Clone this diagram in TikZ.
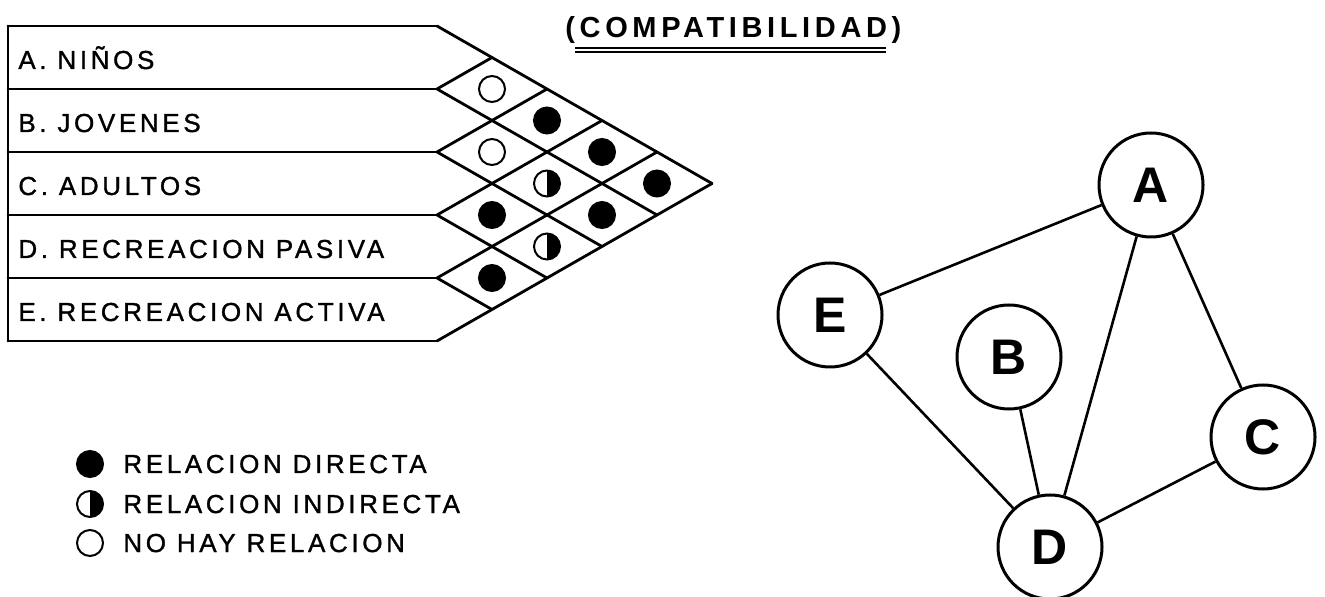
\documentclass[tikz,border=0pt]{standalone}
\usepackage{fontspec}
\setmainfont{Liberation Sans}
\newfontfamily\rotulo[LetterSpace=14, FakeBold=1.2]{Liberation Sans}
\newfontfamily\rotulotit[LetterSpace=16]{Liberation Sans}
\usetikzlibrary{calc}

\begin{document}
\begin{tikzpicture}[x=0.5pt, y=-0.5pt,
    linea/.style={line width=1.4pt, line cap=round},
    fila/.style={anchor=base west, inner sep=0pt, font=\fontsize{13}{15}\rotulo},
    marca/.style={circle, draw, line width=1pt, minimum size=13pt, inner sep=0pt},
    directa/.style={marca, fill=black},
    nula/.style={marca, fill=white},
    indirecta/.style={marca, path picture={\fill (path picture bounding box.north)
                      rectangle (path picture bounding box.south east);}},
    nodo/.style={circle, draw, line width=1.5pt, minimum size=52pt, inner sep=0pt,
                 font=\fontsize{25}{28}\selectfont\bfseries},
    arista/.style={line width=1.3pt}]
  \useasboundingbox (0,0) rectangle (1325,597);

  % titulo
  \node[anchor=base west, inner sep=0pt, font=\fontsize{14.5}{17}\rotulotit\bfseries]
       (tit) at (565,38) {(COMPATIBILIDAD)};
  \draw[line width=0.9pt] ($(tit.base west)+(10,10)$) -- ($(tit.base east)+(-16,10)$);
  \draw[line width=0.9pt] ($(tit.base west)+(10,14)$) -- ($(tit.base east)+(-16,14)$);

  % matriz
  \draw[linea] (8,26) -- (8,341);
  \foreach \k in {0,...,5}
    \draw[linea] (8,{26+63*\k}) -- (437,{26+63*\k});
  \foreach \k in {0,...,4}
    \draw[linea] (437,{26+63*\k}) -- ++({(5-\k)*55},{(5-\k)*31.5});
  \foreach \k in {1,...,5}
    \draw[linea] (437,{26+63*\k}) -- ++({\k*55},{-\k*31.5});

  \node[fila] (fa) at (18,69)  {A. NIÑOS};
  \node[fila] (fb) at (18,132) {B. JOVENES};
  \node[fila] (fc) at (18,195) {C. ADULTOS};
  \node[fila] (fd) at (18,258) {D. RECREACION PASIVA};
  \node[fila] (fe) at (18,321) {E. RECREACION ACTIVA};

  \foreach \i/\j/\t in {0/1/nula, 0/2/directa, 0/3/directa, 0/4/directa,
                        1/2/nula, 1/3/indirecta, 1/4/directa,
                        2/3/directa, 2/4/indirecta, 3/4/directa}
    \node[\t] (m\i\j) at ({437+55*(\j-\i)},{26+31.5*(\i+\j+1)}) {};

  % leyenda
  \node[directa]   (l1) at (90,464) {};
  \node[indirecta] (l2) at (90,504) {};
  \node[nula]      (l3) at (90,543) {};
  \node[fila] (t1) at (123,473) {RELACION DIRECTA};
  \node[fila] (t2) at (123,513) {RELACION INDIRECTA};
  \node[fila] (t3) at (123,552) {NO HAY RELACION};

  % grafo
  \node[nodo] (A) at (1151,185) {A};
  \node[nodo] (E) at (830,315)  {E};
  \node[nodo] (B) at (1009,357) {B};
  \node[nodo] (C) at (1263,437) {C};
  \node[nodo] (D) at (1050,547) {D};
  \draw[arista] (E) -- (A);
  \draw[arista] (A) -- (D);
  \draw[arista] (A) -- (C);
  \draw[arista] (E) -- (D);
  \draw[arista] (B) -- (D);
  \draw[arista] (C) -- (D);
\end{tikzpicture}
\end{document}
